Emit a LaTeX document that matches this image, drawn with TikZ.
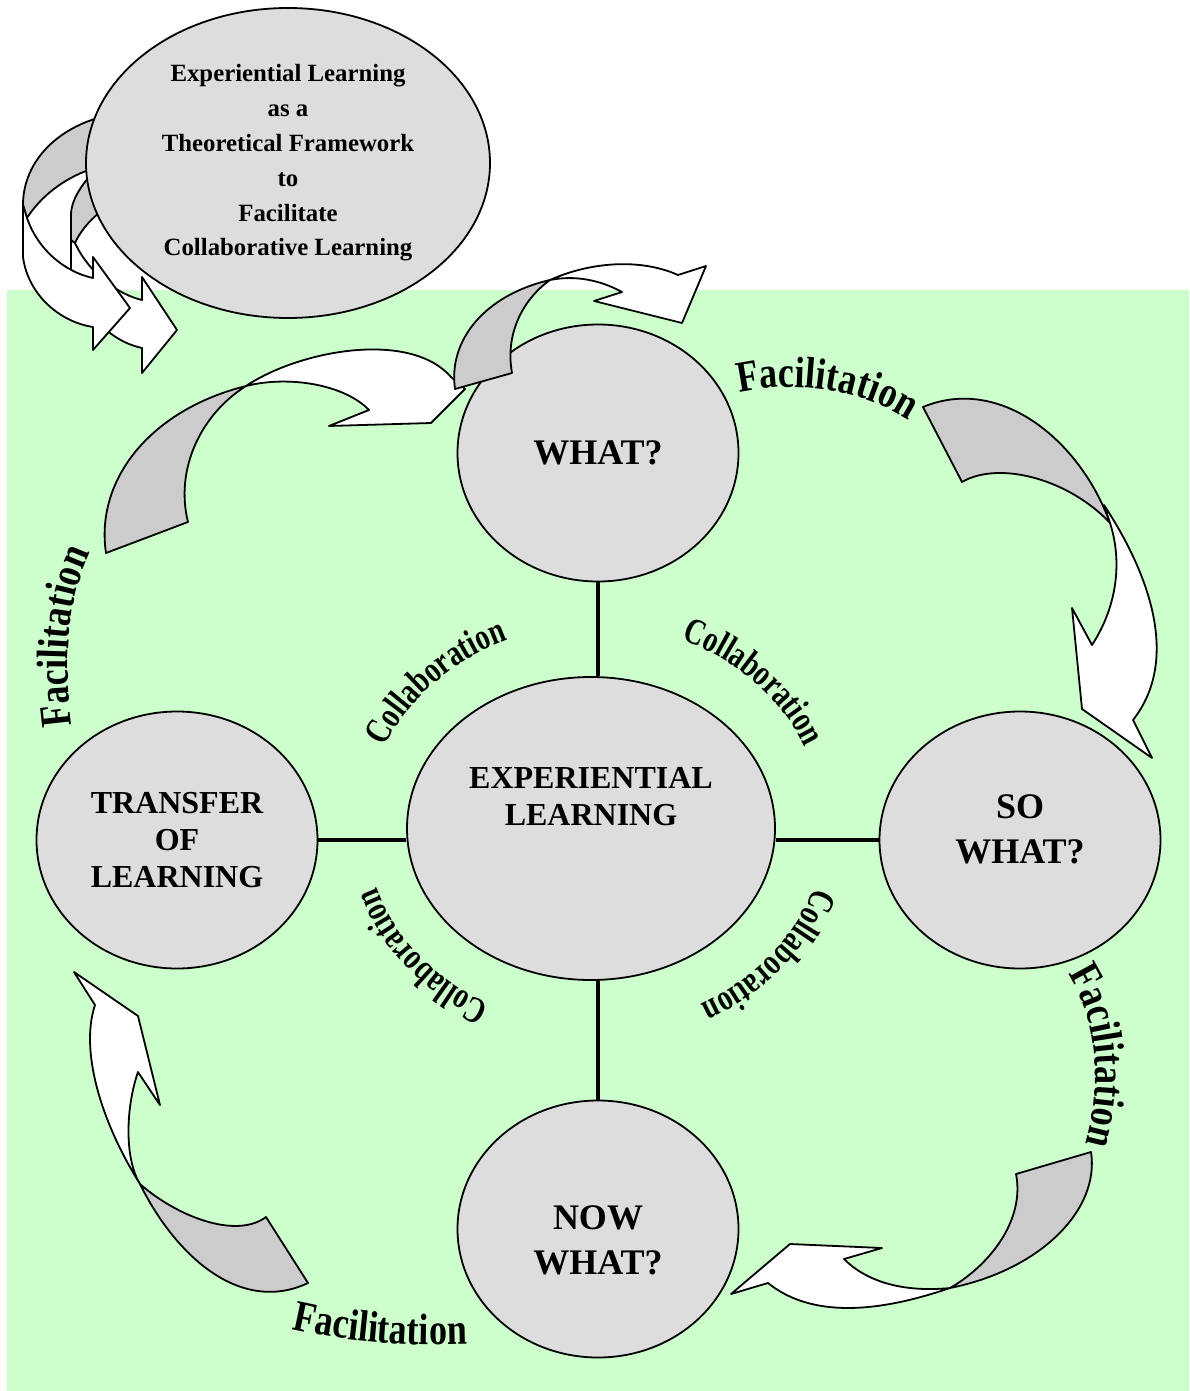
\documentclass[tikz,border=0pt]{standalone}
\usepackage{fontspec}
\setmainfont{Liberation Serif}
\newfontfamily\artfont[FakeStretch=0.82]{Liberation Serif}
\newfontfamily\narrowfont[FakeStretch=0.76]{Liberation Serif}
\usetikzlibrary{shapes.geometric,decorations.text}

\definecolor{mint}{HTML}{CCFFCC}
\definecolor{stagefill}{HTML}{DDDDDD}
\definecolor{backfill}{HTML}{CCCCCC}

\tikzset{
  stage/.style={ellipse, draw, line width=0.9pt, fill=stagefill, inner sep=0pt,
    minimum width=140.5pt, minimum height=128.5pt, align=center,
    font=\bfseries\fontsize{18}{22.5}\selectfont},
  caption/.style={align=center, inner sep=0pt, font=\bfseries\fontsize{18}{22.5}\selectfont},
  spoke/.style={line width=2.2pt},
  ribbonback/.style={draw, line width=0.9pt, fill=backfill, line join=round},
  ribbonfront/.style={draw, line width=0.9pt, fill=white, line join=round},
  facil/.style={decorate, decoration={text along path, text align=center,
    text={|\artfont\bfseries\fontsize{22}{26}\selectfont|Facilitation}}},
  collab/.style={decorate, decoration={text along path, text align=center,
    text={|\narrowfont\bfseries\fontsize{18.5}{22}\selectfont|Collaboration}}}
}

\begin{document}
\begin{tikzpicture}[x=0.5pt, y=-0.5pt]
    \useasboundingbox (0,0) rectangle (1189,1391);
    \fill[mint] (7,290) rectangle (1189,1391);

    % twin arrows behind the framework ellipse
    \path[ribbonfront] (71,240) -- (71,270) .. controls (78,305) and (105,340) .. (142,348)
        -- (142,373) -- (177,330) -- (142,277) -- (142,300)
        .. controls (120,295) and (90,275) .. (75,243) -- cycle;
    \path[ribbonback] (100,165) .. controls (82,183) and (71,200) .. (71,215) -- (71,240)
        -- (75,243) .. controls (80,232) and (88,222) .. (100,212) -- cycle;
    \path[ribbonback] (110,115) .. controls (60,125) and (23,160) .. (23,205)
        -- (27,218) .. controls (45,190) and (75,172) .. (105,165) -- cycle;
    \path[ribbonfront] (23,205) -- (23,257) .. controls (28,295) and (60,322) .. (93,327)
        -- (93,350) -- (130,308) -- (93,257) -- (93,278)
        .. controls (65,272) and (38,250) .. (27,218) -- cycle;

    \node[stage, minimum width=202pt, minimum height=155pt,
        font=\bfseries\fontsize{12.4}{17.4}\selectfont] (frame) at (288,163)
        {Experiential Learning\\as a\\Theoretical Framework\\to\\Facilitate\\Collaborative Learning};

    \node[stage] (what) at (598,453) {WHAT?};
    \node[stage, minimum width=184pt, minimum height=151.5pt] (hub) at (591,828.5) {};
    \node[caption, font=\bfseries\fontsize{16}{18.5}\selectfont] (hubtext) at (591,797) {EXPERIENTIAL\\LEARNING};
    \node[stage, font=\bfseries\fontsize{16}{18.5}\selectfont] (transfer) at (177,840) {TRANSFER\\OF\\LEARNING};
    \node[stage] (sowhat) at (1020,840) {};
    \node[caption] (sowhattext) at (1020,829) {SO\\WHAT?};
    \node[stage] (nowwhat) at (598,1229) {};
    \node[caption] (nowwhattext) at (598,1240) {NOW\\WHAT?};

    \draw[spoke] (what.south) -- (what.south |- hub.north);
    \draw[spoke] (nowwhat.north) -- (nowwhat.north |- hub.south);
    \draw[spoke] (transfer.east) -- (transfer.east -| hub.west);
    \draw[spoke] (sowhat.west) -- (sowhat.west -| hub.east);

    % facilitation arrows
    \path[ribbonback] (106,553) .. controls (95,480) and (150,410) .. (246,386)
        .. controls (200,415) and (175,470) .. (188,522) -- cycle;
    \path[ribbonfront] (246,386) .. controls (300,350) and (410,330) .. (451,377)
        -- (465,389) -- (431,423) -- (329,426) -- (369,410)
        .. controls (345,385) and (290,375) .. (246,386) -- cycle;

    \path[ribbonback] (455,389) .. controls (448,340) and (485,295) .. (550,280)
        .. controls (522,300) and (505,335) .. (512,373) -- cycle;
    \path[ribbonfront] (550,280) .. controls (590,262) and (640,258) .. (678,275)
        -- (706,266) -- (682,323) -- (594,301) -- (622,292)
        .. controls (600,280) and (575,275) .. (550,280) -- cycle;

    \path[ribbonback] (923,407) .. controls (1000,375) and (1080,440) .. (1110,523)
        .. controls (1070,480) and (1000,460) .. (962,482) -- cycle;
    \path[ribbonfront] (1104,505) .. controls (1150,575) and (1180,660) .. (1133,720)
        -- (1152,758) -- (1082,709) -- (1072,608) -- (1092,645)
        .. controls (1118,605) and (1122,560) .. (1110,523) -- cycle;

    \path[ribbonback] (1016,1174) -- (1091,1152) .. controls (1100,1210) and (1040,1270) .. (950,1288)
        .. controls (990,1265) and (1025,1220) .. (1016,1174) -- cycle;
    \path[ribbonfront] (950,1288) .. controls (900,1305) and (820,1325) .. (768,1283)
        -- (731,1294) -- (790,1244) -- (882,1248) -- (844,1259)
        .. controls (870,1285) and (910,1292) .. (950,1288) -- cycle;

    \path[ribbonback] (140,1184) .. controls (175,1255) and (240,1315) .. (308,1283)
        -- (266,1217) .. controls (235,1240) and (175,1215) .. (140,1184) -- cycle;
    \path[ribbonfront] (140,1184) .. controls (100,1120) and (80,1050) .. (95,1005)
        -- (74,972) -- (138,1016) -- (160,1105) -- (138,1072)
        .. controls (125,1110) and (125,1160) .. (140,1184) -- cycle;

    % curved labels
    \path[facil] (720,398) .. controls (790,376) and (870,388) .. (925,432);
    \path[facil] (1058,960) .. controls (1100,1010) and (1105,1090) .. (1080,1160);
    \path[facil] (265,1322) .. controls (330,1342) and (410,1348) .. (495,1343);
    \path[facil] (75,745) .. controls (62,670) and (65,590) .. (100,535);

    \path[collab] (595,825) ++(-163:228 and 200) arc[start angle=-163, end angle=-107, x radius=228, y radius=200];
    \path[collab] (595,825) ++(-73:228 and 200) arc[start angle=-73, end angle=-17, x radius=228, y radius=200];
    \path[collab] (595,825) ++(12:230 and 202) arc[start angle=12, end angle=68, x radius=230, y radius=202];
    \path[collab] (595,825) ++(112:230 and 202) arc[start angle=112, end angle=168, x radius=230, y radius=202];
\end{tikzpicture}
\end{document}
